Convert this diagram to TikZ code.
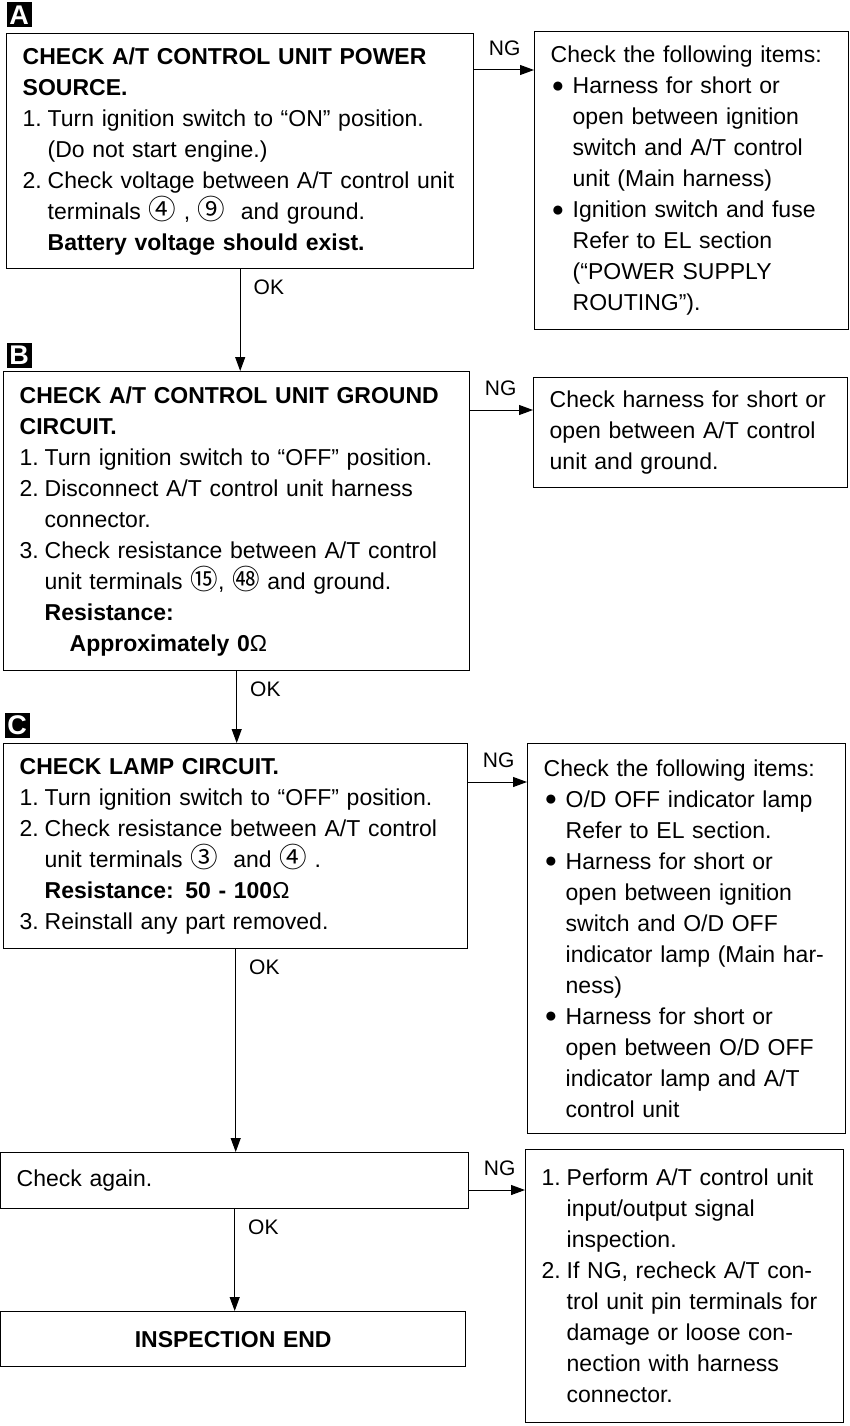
\documentclass[tikz,border=0pt]{standalone}
\usepackage{fontspec}
\setmainfont{Liberation Sans}
\newfontfamily\circfont[Scale=1.2]{Noto Sans CJK SC}
\usetikzlibrary{arrows.meta}
\newcommand{\fs}{\fontsize{23}{31}\selectfont}
\newcommand{\itm}[1]{\makebox[25pt][l]{#1.}}
\newcommand{\cont}{\hspace*{25pt}}
\newcommand{\bul}{\makebox[22pt][l]{\hspace{1pt}\raisebox{1.5pt}{\fontsize{21}{21}\selectfont ●}}}
\newcommand{\bcont}{\hspace*{22pt}}
\newcommand{\term}[1]{{\circfont #1}}
\tikzset{gbox/.style={
    rectangle,
    draw,
    line width=1.4pt,
    anchor=north west,
    align=left,
    inner ysep=0pt,
    font=\fs
  },
  cbox/.style={gbox,inner xsep=16pt},
  rbox/.style={gbox,inner xsep=16pt},
  tagbox/.style={fill=black,text=white,font=\fontsize{27}{27}\selectfont\bfseries,minimum size=25pt,inner sep=0pt},
  flow/.style={line width=1pt,-{Triangle[length=14pt,width=10pt]}},
  nglbl/.style={anchor=south west,pos=0,font=\fontsize{21}{21}\selectfont,inner sep=2pt,xshift=12pt,yshift=12pt},
  oklbl/.style={anchor=north west,pos=0,font=\fontsize{21}{21}\selectfont,inner sep=2pt,xshift=11pt,yshift=-8pt},
}
\begin{document}
\begin{tikzpicture}[x=1pt,y=-1pt]
  \useasboundingbox (0,0) rectangle (849,1426);
  % step A
  \node[tagbox] (tagA) at (19,15) {A};
  \node[cbox,text width=435pt,minimum height=235pt] (chkA) at (6,33) {
    \textbf{CHECK A/T CONTROL UNIT POWER}\\
    \textbf{SOURCE.}\\
    \itm{1}Turn ignition switch to “ON” position.\\
    \cont(Do not start engine.)\\
    \itm{2}Check voltage between A/T control unit\\
    \cont terminals \term{④} , \term{⑨}\ \ and ground.\\
    \cont\textbf{Battery voltage should exist.}};
  \node[rbox,text width=282pt,minimum height=298pt] (ngA) at (534,31) {
    Check the following items:\\
    \bul Harness for short or\\
    \bcont open between ignition\\
    \bcont switch and A/T control\\
    \bcont unit (Main harness)\\
    \bul Ignition switch and fuse\\
    \bcont Refer to EL section\\
    \bcont (“POWER SUPPLY\\
    \bcont ROUTING”).};
  % step B
  \node[tagbox] (tagB) at (19,355) {B};
  \node[cbox,text width=434pt,minimum height=299pt] (chkB) at (3,371) {
    \textbf{CHECK A/T CONTROL UNIT GROUND}\\
    \textbf{CIRCUIT.}\\
    \itm{1}Turn ignition switch to “OFF” position.\\
    \itm{2}Disconnect A/T control unit harness\\
    \cont connector.\\
    \itm{3}Check resistance between A/T control\\
    \cont unit terminals \term{⑮}, \term{㊽} and ground.\\
    \cont\textbf{Resistance:}\\
    \hspace*{50pt}\textbf{Approximately 0}Ω};
  \node[rbox,text width=282pt,minimum height=110pt] (ngB) at (533,377) {
    Check harness for short or\\
    open between A/T control\\
    unit and ground.};
  % step C
  \node[tagbox] (tagC) at (17,725) {C};
  \node[cbox,text width=432pt,minimum height=205pt] (chkC) at (3,743) {
    \textbf{CHECK LAMP CIRCUIT.}\\
    \itm{1}Turn ignition switch to “OFF” position.\\
    \itm{2}Check resistance between A/T control\\
    \cont unit terminals \term{③}\ \ and \term{④} .\\
    \cont\textbf{Resistance: 50 - 100}Ω\\
    \itm{3}Reinstall any part removed.};
  \node[rbox,text width=286pt,minimum height=390pt] (ngC) at (527,743) {
    Check the following items:\\
    \bul O/D OFF indicator lamp\\
    \bcont Refer to EL section.\\
    \bul Harness for short or\\
    \bcont open between ignition\\
    \bcont switch and O/D OFF\\
    \bcont indicator lamp (Main har-\\
    \bcont ness)\\
    \bul Harness for short or\\
    \bcont open between O/D OFF\\
    \bcont indicator lamp and A/T\\
    \bcont control unit};
  % final check
  \node[cbox,text width=436pt,minimum height=56pt] (again) at (0,1152) {Check again.};
  \node[rbox,text width=286pt,minimum height=273pt] (ngD) at (525,1149) {
    \itm{1}Perform A/T control unit\\
    \cont input/output signal\\
    \cont inspection.\\
    \itm{2}If NG, recheck A/T con-\\
    \cont trol unit pin terminals for\\
    \cont damage or loose con-\\
    \cont nection with harness\\
    \cont connector.};
  \node[cbox,align=center,text width=433pt,minimum height=55pt] (fin) at (0,1311) {\textbf{INSPECTION END}};

  % NG branches
  \coordinate (a1) at ([yshift=-37pt]chkA.north east);
  \coordinate (b1) at ([yshift=-39pt]chkB.north east);
  \coordinate (c1) at ([yshift=-39pt]chkC.north east);
  \coordinate (d1) at ([yshift=-38pt]again.north east);
  \draw[flow] (a1) -- node[nglbl] {NG} (a1 -| ngA.west);
  \draw[flow] (b1) -- node[nglbl] {NG} (b1 -| ngB.west);
  \draw[flow] (c1) -- node[nglbl] {NG} (c1 -| ngC.west);
  \draw[flow] (d1) -- node[nglbl] {NG} (d1 -| ngD.west);

  % OK path
  \draw[flow] (chkA.south) -- node[oklbl] {OK} (chkA.south |- chkB.north);
  \draw[flow] (chkB.south) -- node[oklbl] {OK} (chkB.south |- chkC.north);
  \draw[flow] (chkC.south) -- node[oklbl] {OK} (chkC.south |- again.north);
  \draw[flow] (again.south) -- node[oklbl] {OK} (again.south |- fin.north);
\end{tikzpicture}
\end{document}
